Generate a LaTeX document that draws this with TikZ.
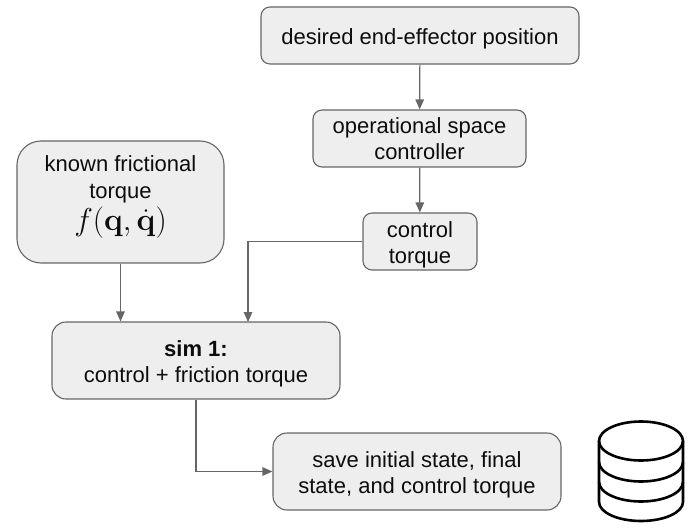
\documentclass[tikz,border=0pt]{standalone}
\usepackage{amsmath,amssymb,amsfonts}
\usepackage[no-math]{fontspec}
\setmainfont{Liberation Sans}
\usepackage{xcolor}
\usetikzlibrary{arrows.meta,positioning}
\definecolor{boxfill}{HTML}{EEEEEE}
\definecolor{boxline}{HTML}{666666}
\definecolor{arrowline}{HTML}{666666}
\begin{document}
\begin{tikzpicture}[x=1pt,y=-1pt,>={Triangle[length=10pt,width=8.5pt]},
	stage/.style={draw=boxline,fill=boxfill,line width=1.1pt,rounded corners=9pt,inner sep=0pt,align=center,text=black!95,font=\fontsize{22}{26}\selectfont,
		execute at begin node=\rule{0pt}{#1},execute at end node=\rule[-5pt]{0pt}{5pt}},
	stage/.default=48pt,
	link/.style={->,arrowline,line width=1.2pt},
	disk/.style={draw=black,line width=2.6pt}]
	\useasboundingbox (0,0) rectangle (699,532);
	\node [stage=24pt,minimum width=318pt,minimum height=57pt] at (420,35.5) (target) {desired end-effector position};
	\node [stage,minimum width=213pt,minimum height=57pt] at (419.5,138.5) (osc) {operational space\\controller};
	\node [stage,minimum width=114pt,minimum height=57pt] at (420,241.5) (ctrl) {control\\torque};
	\node [stage,minimum width=207pt,minimum height=122pt,rounded corners=24pt] at (120.5,202) (known) {known frictional\\[1pt]torque\\[3pt]{\fontsize{25}{28}\selectfont\scalebox{1.27}{$f(\mathbf{q},\dot{\mathbf{q}})$}}\rule[-18pt]{0pt}{18pt}};
	\node [stage,minimum width=288pt,minimum height=77pt,rounded corners=14pt] at (196,360.5) (sim) {\textbf{sim 1:}\\control + friction torque};
	\node [stage,minimum width=288pt,minimum height=77pt,rounded corners=14pt] at (417,471.5) (save) {save initial state, final\\state, and control torque};
	\coordinate (simin) at (248,322);

	\path[link]
	(target) edge (osc)
	(osc) edge (ctrl)
	(known) edge (known |- sim.north);
	\draw[link] (ctrl.west) -| (simin);
	\draw[link] (sim.south) |- (save.west);

	% database
	\draw[disk] (641,441) ellipse [x radius=42pt,y radius=19.5pt];
	\draw[disk,line join=round] (599,441) -- (599,502) arc [start angle=180,end angle=360,x radius=42pt,y radius=19pt] -- (683,441);
	\draw[disk] (599,462) arc [start angle=180,end angle=360,x radius=42pt,y radius=19.5pt];
	\draw[disk] (599,482) arc [start angle=180,end angle=360,x radius=42pt,y radius=19.5pt];
\end{tikzpicture}
\end{document}
